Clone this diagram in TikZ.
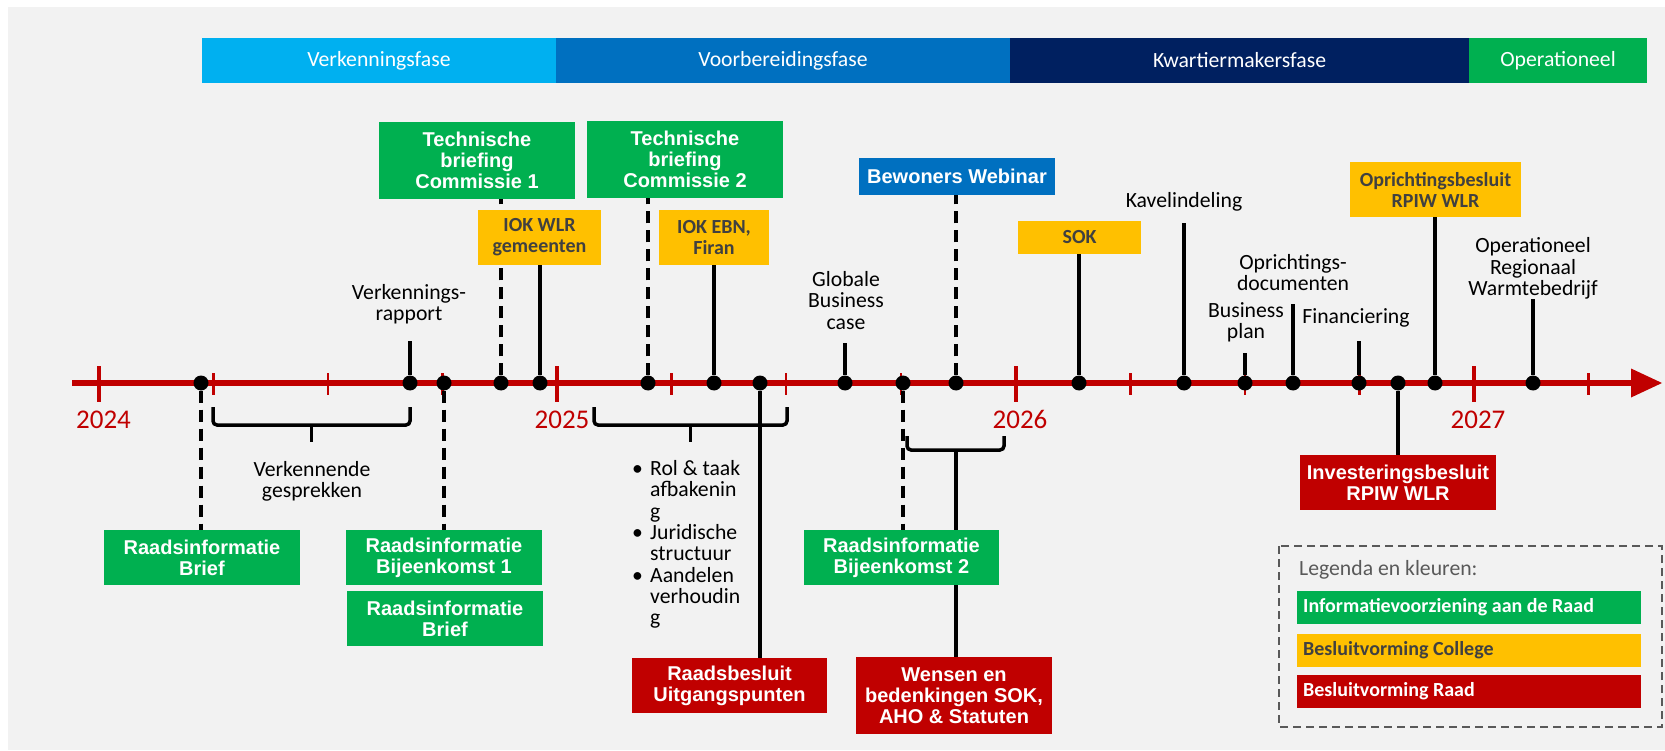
\documentclass[tikz,border=0pt]{standalone}
\usepackage{fontspec}
\setmainfont{Carlito}
\newfontfamily\arialfont{Liberation Sans}
\usetikzlibrary{calc}
\definecolor{bgGrey}{HTML}{F2F2F2}
\definecolor{cGreen}{HTML}{00B050}
\definecolor{cRed}{HTML}{C00000}
\definecolor{cYellow}{HTML}{FFC000}
\definecolor{cBlue}{HTML}{0070C0}
\definecolor{cLBlue}{HTML}{00B0F0}
\definecolor{cNavy}{HTML}{002060}
\definecolor{cDark}{HTML}{404040}
\definecolor{cLegend}{HTML}{595959}
\pgfdeclarelayer{back}
\pgfdeclarelayer{conn}
\pgfsetlayers{back,conn,main}
\tikzset{
  boxstyle/.style={draw=none, inner sep=0pt, align=center, text=white,
    font=\arialfont\bfseries\fontsize{20}{21}\selectfont},
  gbox/.style={boxstyle, fill=cGreen},
  rbox/.style={boxstyle, fill=cRed},
  bbox/.style={boxstyle, fill=cBlue},
  ybox/.style={boxstyle, fill=cYellow, text=cDark, font=\bfseries\fontsize{20}{21}\selectfont},
  lbl/.style={align=center, inner sep=0pt, text=black, font=\fontsize{21.7}{21.3}\selectfont},
  phase/.style={inner sep=0pt, text=white, minimum height=45pt, font=\fontsize{21.7}{22}\selectfont},
  yr/.style={inner sep=0pt, text=cRed, anchor=base, font=\fontsize{27}{27}\selectfont},
  dot/.style={circle, fill=black, inner sep=0pt, minimum size=15pt},
  conn/.style={line width=3.5pt, black},
  dconn/.style={conn, dash pattern=on 12pt off 7pt},
  brk/.style={line width=3.5pt, black, rounded corners=4pt},
  bigtick/.style={cRed, line width=3.5pt},
  smalltick/.style={cRed, line width=2.5pt},
  legrow/.style={inner sep=0pt, minimum width=344pt, minimum height=33pt},
  legtext/.style={inner sep=0pt, anchor=west, font=\bfseries\fontsize{20}{21}\selectfont}
}
\begin{document}
\begin{tikzpicture}[x=1pt,y=-1pt]
\useasboundingbox (0,0) rectangle (1665,751);
\begin{pgfonlayer}{back}
  \fill[white] (0,0) rectangle (1665,751);
  \fill[bgGrey] (8,7) rectangle (1665,750);
\end{pgfonlayer}

% phase bars
\node[phase, fill=cLBlue, minimum width=354pt] (ph1) at (379,60.5) {Verkenningsfase};
\node[phase, fill=cBlue, minimum width=454pt] (ph2) at (783,60.5) {Voorbereidingsfase};
\node[phase, fill=cNavy, minimum width=459pt] (ph3) at (1239.5,60.5) {Kwartiermakersfase};
\node[phase, fill=cGreen, minimum width=178pt] (ph4) at (1558,60.5) {Operationeel};

% years
\node[yr] (y24) at (103.5,428) {2024};
\node[yr] (y25) at (562,428) {2025};
\node[yr] (y26) at (1020,428) {2026};
\node[yr] (y27) at (1478,428) {2027};

% dots
\node[dot] (d1) at (201,383) {};
\node[dot] (d2) at (410,383) {};
\node[dot] (d3) at (444,383) {};
\node[dot] (d4) at (501,383) {};
\node[dot] (d5) at (540,383) {};
\node[dot] (d6) at (648,383) {};
\node[dot] (d7) at (714,383) {};
\node[dot] (d8) at (760,383) {};
\node[dot] (d9) at (845,383) {};
\node[dot] (d10) at (903,383) {};
\node[dot] (d11) at (956,383) {};
\node[dot] (d12) at (1079,383) {};
\node[dot] (d13) at (1184,383) {};
\node[dot] (d14) at (1245,383) {};
\node[dot] (d15) at (1293,383) {};
\node[dot] (d16) at (1359,383) {};
\node[dot] (d17) at (1398,383) {};
\node[dot] (d18) at (1435,383) {};
\node[dot] (d19) at (1533,383) {};

% boxes
\node[gbox, minimum width=196pt, minimum height=55pt] (rib1) at (202,557.5) {Raadsinformatie\\Brief};
\node[gbox, minimum width=196pt, minimum height=55pt] (rbk1) at (444,557.5) {Raadsinformatie\\Bijeenkomst 1};
\node[gbox, minimum width=196pt, minimum height=55pt] (rib2) at (445,618.5) {Raadsinformatie\\Brief};
\node[gbox, minimum width=196pt, minimum height=77pt] (tbc1) at (477,160.5) {Technische\\briefing\\Commissie 1};
\node[gbox, minimum width=196pt, minimum height=77pt] (tbc2) at (685,159.5) {Technische\\briefing\\Commissie 2};
\node[ybox, minimum width=123pt, minimum height=55pt] (iok1) at (539.5,237.5) {IOK WLR\\gemeenten};
\node[ybox, minimum width=110pt, minimum height=55pt] (iok2) at (714,237.5) {IOK EBN,\\Firan};
\node[rbox, minimum width=195pt, minimum height=55pt] (rbu) at (729.5,685.5) {Raadsbesluit\\Uitgangspunten};
\node[gbox, minimum width=195pt, minimum height=55pt] (rbk2) at (901.5,557.5) {Raadsinformatie\\Bijeenkomst 2};
\node[bbox, minimum width=196pt, minimum height=37pt] (bw) at (957,176.5) {Bewoners Webinar};
\node[rbox, minimum width=196pt, minimum height=77pt] (wens) at (954,695.5) {Wensen en\\bedenkingen SOK,\\AHO \& Statuten};
\node[ybox, minimum width=123pt, minimum height=33pt] (sok) at (1079.5,237.5) {SOK};
\node[rbox, minimum width=196pt, minimum height=55pt] (inv) at (1398,482.5) {Investeringsbesluit\\RPIW WLR};
\node[ybox, minimum width=171pt, minimum height=55pt] (opr) at (1435.5,189.5) {Oprichtingsbesluit\\RPIW WLR};

% labels
\node[lbl] (vr) at (409,304) {Verkennings-\\rapport};
\node[lbl] (vg) at (312,481) {Verkennende\\gesprekken};
\node[lbl, align=left, anchor=west] (bul) at (632,544.5)
  {\makebox[18pt][l]{\textbullet}Rol \& taak\\
   \makebox[18pt][l]{}afbakenin\\
   \makebox[18pt][l]{}g\\
   \makebox[18pt][l]{\textbullet}Juridische\\
   \makebox[18pt][l]{}structuur\\
   \makebox[18pt][l]{\textbullet}Aandelen\\
   \makebox[18pt][l]{}verhoudin\\
   \makebox[18pt][l]{}g};
\node[lbl] (gbc) at (846,300.5) {Globale\\Business\\case};
\node[lbl] (kav) at (1184,202) {Kavelindeling};
\node[lbl] (bp) at (1246,322) {Business\\plan};
\node[lbl] (od) at (1293,272.5) {Oprichtings-\\documenten};
\node[lbl] (fin) at (1356,318) {Financiering};
\node[lbl] (orw) at (1533,268.5) {Operationeel\\Regionaal\\Warmtebedrijf};

% connector end points
\coordinate (t2) at (410,341);
\coordinate (t9) at (845,343);
\coordinate (t13) at (1184,223);
\coordinate (t14) at (1245,353);
\coordinate (t15) at (1293,304);
\coordinate (t16) at (1359,341);
\coordinate (t19) at (1533,299);
\coordinate (b3c) at (956,450);

% legend
\draw[cLegend, line width=2pt, dash pattern=on 8pt off 5pt] (1279,546) rectangle (1662,727);
\node[inner sep=0pt, anchor=west, text=cLegend, font=\fontsize{21.7}{22}\selectfont] (legt) at (1299,570) {Legenda en kleuren:};
\node[legrow, fill=cGreen] (lg1) at (1469,607.5) {};
\node[legrow, fill=cYellow] (lg2) at (1469,650.5) {};
\node[legrow, fill=cRed] (lg3) at (1469,691.5) {};
\node[legtext, text=white] (lt1) at (1303,607.5) {Informatievoorziening aan de Raad};
\node[legtext, text=cDark] (lt2) at (1303,650.5) {Besluitvorming College};
\node[legtext, text=white] (lt3) at (1303,691.5) {Besluitvorming Raad};

\begin{pgfonlayer}{conn}
  % axis
  \draw[cRed, line width=6pt] (72,383) -- (1632,383);
  \fill[cRed] (1631,368.5) -- (1662,383) -- (1631,397.5) -- cycle;
  \foreach \x in {99,557,1016,1474} \draw[bigtick] (\x,366) -- (\x,402);
  \foreach \x in {213.5,328,442.5,671.5,786,901,1130.5,1245,1359.5,1588.5} \draw[smalltick] (\x,373) -- (\x,395);

  % brackets
  \draw[brk] (213,407) -- (213,425) -- (410,425) -- (410,407);
  \draw[line width=3.5pt] (311.5,425) -- (311.5,442);
  \draw[brk] (594,407) -- (594,425) -- (787,425) -- (787,407);
  \draw[line width=3.5pt] (690.5,425) -- (690.5,442);
  \draw[brk] (907,436) -- (907,450) -- (1004,450) -- (1004,436);

  % connectors
  \draw[dconn] (d1) -- (rib1.north -| d1);
  \draw[conn] (d2) -- (t2);
  \draw[dconn] (d3) -- (rbk1.north -| d3);
  \draw[dconn] (d4) -- (tbc1.south -| d4);
  \draw[conn] (d5) -- (iok1.south -| d5);
  \draw[dconn] (d6) -- (tbc2.south -| d6);
  \draw[conn] (d7) -- (iok2.south -| d7);
  \draw[conn] (d8) -- (rbu.north -| d8);
  \draw[conn] (d9) -- (t9);
  \draw[dconn] (d10) -- (rbk2.north -| d10);
  \draw[dconn] (d11) -- (bw.south -| d11);
  \draw[conn] (b3c) -- (wens.north -| b3c);
  \draw[conn] (d12) -- (sok.south -| d12);
  \draw[conn] (d13) -- (t13);
  \draw[conn] (d14) -- (t14);
  \draw[conn] (d15) -- (t15);
  \draw[conn] (d16) -- (t16);
  \draw[conn] (d17) -- (inv.north -| d17);
  \draw[conn] (d18) -- (opr.south -| d18);
  \draw[conn] (d19) -- (t19);
\end{pgfonlayer}
\end{tikzpicture}
\end{document}
